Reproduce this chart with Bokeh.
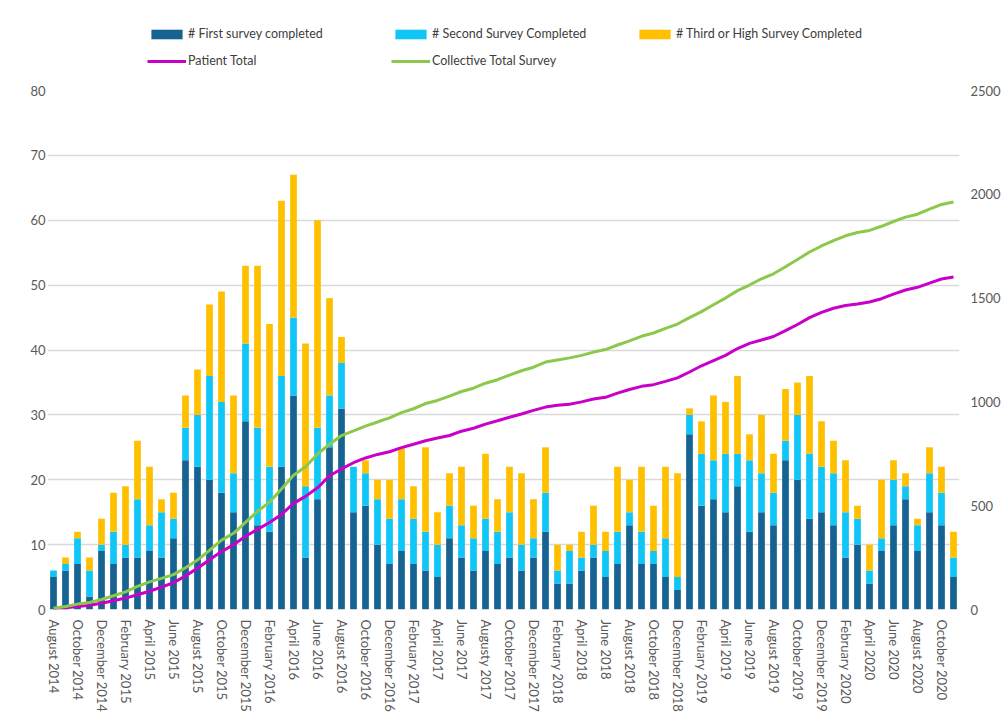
from bokeh.plotting import figure
from bokeh.layouts import column
from bokeh.models import (ColumnDataSource, Range1d, LinearAxis, FixedTicker,
                          Legend, LegendItem)
from bokeh.embed import file_html
from bokeh.resources import INLINE

# ---- data (Aug 2014 .. Nov 2020, monthly) ----
tick_labels = [
    "August 2014", "October 2014", "December 2014", "February 2015", "April 2015",
    "June 2015", "August 2015", "October 2015", "December 2015", "February 2016",
    "April 2016", "June 2016", "August 2016", "October 2016", "December 2016",
    "February 2017", "April 2017", "June 2017", "Augusty 2017", "October 2017",
    "December 2017", "February 2018", "April 2018", "June 2018", "August 2018",
    "October 2018", "December 2018", "February 2019", "April 2019", "June 2019",
    "August 2019", "October 2019", "December 2019", "February 2020", "April 2020",
    "June 2020", "August 2020", "October 2020",
]

first_survey = [5, 6, 7, 2, 9, 7, 8, 8, 9, 8, 11, 23, 22, 20, 18, 15, 29, 13, 12, 22,
                33, 8, 17, 25, 31, 15, 16, 10, 7, 9, 7, 6, 5, 11, 8, 6, 9, 7, 8, 6,
                8, 12, 4, 4, 6, 8, 5, 7, 13, 7, 7, 5, 3, 27, 16, 17, 15, 19, 12, 15,
                13, 23, 20, 14, 15, 13, 8, 10, 4, 9, 13, 17, 9, 15, 13, 5]
second_survey = [1, 1, 4, 4, 1, 5, 2, 9, 4, 7, 3, 5, 8, 16, 14, 6, 12, 15, 10, 14,
                 12, 11, 11, 8, 7, 7, 5, 7, 7, 8, 7, 6, 5, 5, 5, 5, 5, 5, 7, 4,
                 3, 6, 2, 5, 2, 2, 4, 5, 2, 5, 2, 6, 2, 3, 8, 6, 9, 5, 11, 6,
                 5, 3, 10, 10, 7, 8, 7, 4, 2, 2, 7, 2, 4, 6, 5, 3]
third_survey = [0, 1, 1, 2, 4, 6, 9, 9, 9, 2, 4, 5, 7, 11, 17, 12, 12, 25, 22, 27,
                22, 22, 32, 15, 4, 0, 2, 3, 6, 8, 5, 13, 5, 5, 9, 5, 10, 5, 7, 11,
                6, 7, 4, 1, 4, 6, 3, 10, 5, 10, 7, 11, 16, 1, 5, 10, 8, 12, 4, 9,
                6, 8, 5, 12, 7, 5, 8, 2, 4, 9, 3, 2, 1, 4, 4, 4]
patient_total = [5, 9, 14, 20, 30, 42, 55, 71, 88, 108, 129, 162, 199, 240, 279, 312,
                 353, 386, 419, 458, 511, 545, 586, 644, 677, 707, 730, 747, 760, 780,
                 796, 813, 826, 838, 859, 873, 893, 909, 926, 942, 959, 975, 984, 989,
                 1000, 1014, 1022, 1042, 1060, 1075, 1083, 1099, 1116, 1144, 1174, 1199,
                 1224, 1257, 1282, 1298, 1315, 1343, 1373, 1406, 1431, 1451, 1464, 1472,
                 1481, 1497, 1519, 1539, 1552, 1572, 1592, 1602]
collective_total = [6, 14, 26, 34, 48, 66, 85, 111, 133, 150, 168, 201, 238, 285, 334,
                    367, 420, 473, 517, 580, 647, 688, 748, 796, 838, 860, 883, 903, 923,
                    948, 967, 992, 1007, 1028, 1050, 1066, 1090, 1107, 1129, 1150, 1167,
                    1192, 1202, 1212, 1224, 1240, 1252, 1274, 1294, 1316, 1332, 1354, 1375,
                    1406, 1435, 1468, 1500, 1536, 1563, 1593, 1617, 1651, 1686, 1722, 1751,
                    1777, 1800, 1816, 1826, 1846, 1869, 1890, 1904, 1929, 1951, 1963]

series_names = ["# First survey completed", "# Second Survey Completed",
                "# Third or High Survey Completed"]
line_names = ["Patient Total", "Collective Total Survey"]

# ---- styling ----
bar_colors = ["#166392", "#0fc6f6", "#ffc000"]
patient_color = "#c800c8"
collective_color = "#8cc84b"
text_color = "#595959"
FONT = "Lato"
LEGEND_H = 80

n = len(first_survey)
x = list(range(n))
src = ColumnDataSource(dict(x=x, first=first_survey, second=second_survey,
                            third=third_survey, patient=patient_total,
                            collective=collective_total))

p = figure(width=1003, height=723 - LEGEND_H, output_backend="svg", toolbar_location=None,
           x_range=Range1d(-0.5, n - 0.5), y_range=Range1d(0, 80),
           min_border_left=47, min_border_right=44, min_border_top=10,
           min_border_bottom=114, background_fill_color="white",
           border_fill_color="white")
p.outline_line_color = None
p.extra_y_ranges = {"right": Range1d(0, 2500)}

p.vbar_stack(["first", "second", "third"], x="x", width=0.56, source=src,
             fill_color=bar_colors, line_color=None)
p.line("x", "patient", source=src, y_range_name="right",
       line_color=patient_color, line_width=3)
p.line("x", "collective", source=src, y_range_name="right",
       line_color=collective_color, line_width=3)

# axes
p.xgrid.visible = False
p.ygrid.grid_line_color = "#d9d9d9"
p.ygrid.grid_line_width = 1.5
p.ygrid.ticker = FixedTicker(ticks=list(range(0, 81, 10)))

ly = p.yaxis[0]
ly.ticker = FixedTicker(ticks=list(range(0, 81, 10)))

ry = LinearAxis(y_range_name="right", ticker=FixedTicker(ticks=list(range(0, 2501, 500))))
p.add_layout(ry, "right")

xa = p.xaxis[0]
for ax in (ly, ry, xa):
    ax.axis_line_color = None
    ax.major_tick_line_color = None
    ax.minor_tick_line_color = None
    ax.major_tick_out = 0
    ax.major_tick_in = 0
    ax.minor_tick_out = 0
    ax.minor_tick_in = 0
    ax.major_label_text_color = text_color
    ax.major_label_text_font = FONT
    ax.major_label_text_font_size = "13px"
ly.major_label_standoff = 2
ry.major_label_standoff = 11

tick_pos = list(range(0, n, 2))[:len(tick_labels)]
xa.ticker = FixedTicker(ticks=tick_pos)
xa.major_label_overrides = {t: lbl for t, lbl in zip(tick_pos, tick_labels)}
xa.major_label_orientation = "vertical"
xa.major_label_standoff = 10

# ---- legend strip above the chart ----
lg = figure(width=1003, height=LEGEND_H, output_backend="svg", toolbar_location=None,
            x_range=Range1d(0, 1), y_range=Range1d(0, 1),
            min_border=0, background_fill_color="white", border_fill_color="white")
lg.outline_line_color = None
lg.axis.visible = False
lg.grid.visible = False
# legend-only renderers: points placed outside the visible range
dummy = ColumnDataSource(dict(x=[-10, -11], y0=[-10, -11], y1=[-9, -10]))
lr = [lg.vbar(x="x", bottom="y0", top="y1", width=0.5, source=dummy,
              fill_color=c, line_color=None) for c in bar_colors]
lr.append(lg.line("x", "y0", source=dummy, line_color=patient_color, line_width=3))
lr.append(lg.line("x", "y0", source=dummy, line_color=collective_color, line_width=3))
names = series_names + line_names
items = [LegendItem(label=nm, renderers=[r]) for nm, r in zip(names, lr)]
legend = Legend(items=items, orientation="horizontal", ncols=3,
                location=(100, 12),
                glyph_width=39, glyph_height=12, label_height=12, label_width=191,
                label_standoff=2, spacing=12, padding=0, margin=0,
                border_line_color=None, background_fill_alpha=0,
                label_text_font=FONT, label_text_font_size="12.5px",
                label_text_color="#404040")
lg.add_layout(legend, "center")

layout = column(lg, p, spacing=0)
open("out.html", "w").write(file_html(layout, INLINE))
